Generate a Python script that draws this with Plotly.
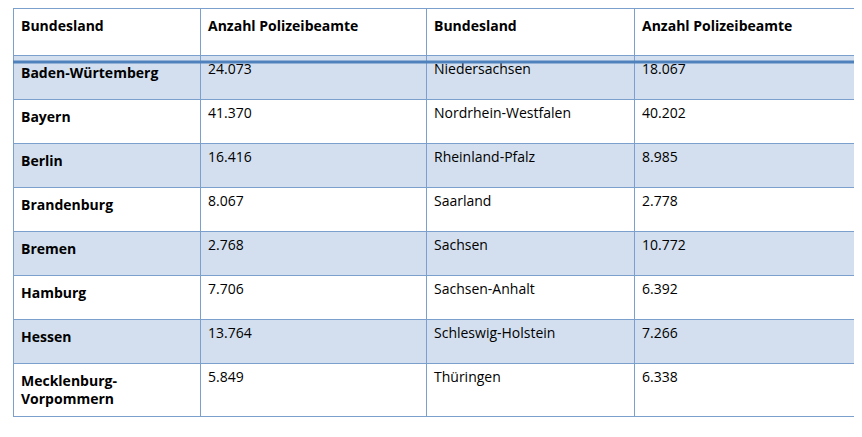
import plotly.graph_objects as go

headers = ["Bundesland", "Anzahl Polizeibeamte", "Bundesland", "Anzahl Polizeibeamte"]
laender1 = ["Baden-Würtemberg", "Bayern", "Berlin", "Brandenburg", "Bremen", "Hamburg", "Hessen", "Mecklenburg-<br>Vorpommern"]
werte1 = ["24.073", "41.370", "16.416", "8.067", "2.768", "7.706", "13.764", "5.849"]
laender2 = ["Niedersachsen", "Nordrhein-Westfalen", "Rheinland-Pfalz", "Saarland", "Sachsen", "Sachsen-Anhalt", "Schleswig-Holstein", "Thüringen"]
werte2 = ["18.067", "40.202", "8.985", "2.778", "10.772", "6.392", "7.266", "6.338"]

n = len(laender1)
row_fill = ["#D3DFEE" if i % 2 == 0 else "white" for i in range(n)]
line_c = "#7BA0CD"

fig = go.Figure(go.Table(
    columnwidth=[187, 226, 208, 231],
    header=dict(values=[f"<b>{h}</b>" for h in headers], align="left", height=47,
                fill_color="white", line=dict(color=line_c, width=1),
                font=dict(family="Open Sans", size=14, color="black")),
    cells=dict(values=[[f"<b>{l}</b>" for l in laender1], werte1, laender2, werte2],
               align="left", height=44,
               fill_color=[row_fill] * 4, line=dict(color=line_c, width=1),
               font=dict(family="Open Sans", size=14, color="black")),
))
H = 437
fig.update_layout(width=862, height=H, margin=dict(l=5, r=5, t=0, b=0),
                  paper_bgcolor="white")
fig.add_shape(type="line", xref="paper", yref="paper", x0=0, x1=1,
              y0=1 - 54 / H, y1=1 - 54 / H,
              line=dict(color="#4F81BD", width=3))
fig.write_html("out.html")
